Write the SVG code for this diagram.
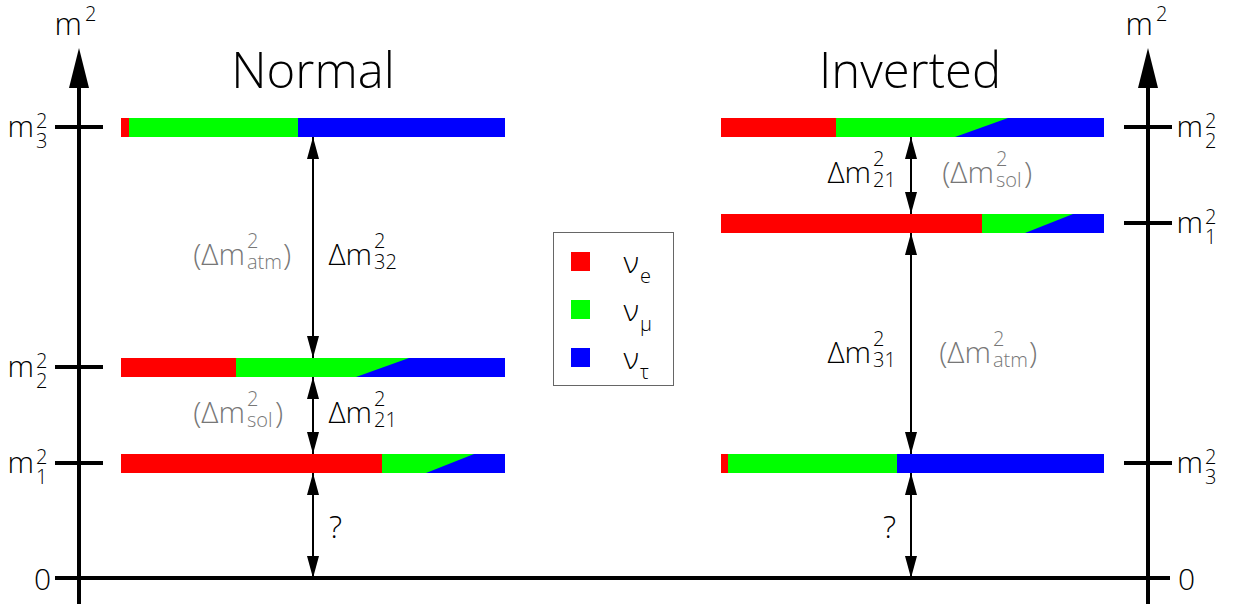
<svg xmlns="http://www.w3.org/2000/svg" width="1236" height="608" viewBox="0 0 1236 608">
  <style>
    text { font-family: "Open Sans", "Liberation Sans", sans-serif; font-weight: 300; fill: #000; }
    .title { font-size: 49px; }
    .lab { font-size: 30px; }
    .main { font-size: 30px; text-anchor: end; }
    .idx { font-size: 20px; }
    .grey { fill: #777; }
    .axis { stroke: #000; stroke-width: 4; fill: none; }
    .gap { stroke: #000; stroke-width: 2; fill: none; marker-start: url(#tip); marker-end: url(#tip); }
    .e { fill: #ff0000; }
    .mu { fill: #00ff00; }
    .tau { fill: #0000ff; }
  </style>
  <defs>
    <marker id="tip" viewBox="0 0 22 12" refX="22" refY="6" markerWidth="22" markerHeight="12" markerUnits="userSpaceOnUse" orient="auto-start-reverse">
      <path d="M0,0 L22,6 L0,12 z" fill="#000"/>
    </marker>
  </defs>

  <!-- axes -->
  <g id="axes">
    <line class="axis" x1="79" y1="604" x2="79" y2="80"/>
    <polygon points="79,48 69,88 89,88" fill="#000"/>
    <line class="axis" x1="1148" y1="604" x2="1148" y2="80"/>
    <polygon points="1148,48 1138,88 1158,88" fill="#000"/>
    <line class="axis" x1="55" y1="578" x2="1170" y2="578"/>
    <!-- left ticks -->
    <line class="axis" x1="55" y1="127" x2="103" y2="127"/>
    <line class="axis" x1="55" y1="367" x2="103" y2="367"/>
    <line class="axis" x1="55" y1="463" x2="103" y2="463"/>
    <!-- right ticks -->
    <line class="axis" x1="1124" y1="127" x2="1172" y2="127"/>
    <line class="axis" x1="1124" y1="223" x2="1172" y2="223"/>
    <line class="axis" x1="1124" y1="463" x2="1172" y2="463"/>
    <!-- axis labels -->
    <text class="main" x="82" y="35" style="font-size:31px">m</text>
    <text class="idx" x="85" y="21">2</text>
    <text class="main" x="1153" y="35" style="font-size:31px">m</text>
    <text class="idx" x="1156" y="21">2</text>
    <text class="lab" x="34" y="590">0</text>
    <text class="lab" x="1178" y="590">0</text>
  </g>

  <!-- level labels, left -->
  <g id="level-labels-left">
    <text class="main" x="34" y="137">m</text><text class="idx" x="36" y="128">2</text><text class="idx" x="36" y="148">3</text>
    <text class="main" x="34" y="377">m</text><text class="idx" x="36" y="368">2</text><text class="idx" x="36" y="388">2</text>
    <text class="main" x="34" y="473">m</text><text class="idx" x="36" y="464">2</text><text class="idx" x="36" y="484">1</text>
  </g>
  <!-- level labels, right -->
  <g id="level-labels-right">
    <text class="main" x="1203" y="137">m</text><text class="idx" x="1205" y="128">2</text><text class="idx" x="1205" y="148">2</text>
    <text class="main" x="1203" y="233">m</text><text class="idx" x="1205" y="224">2</text><text class="idx" x="1205" y="244">1</text>
    <text class="main" x="1203" y="473">m</text><text class="idx" x="1205" y="464">2</text><text class="idx" x="1205" y="484">3</text>
  </g>

  <!-- titles -->
  <text class="title" x="313" y="88" text-anchor="middle">Normal</text>
  <text class="title" x="910" y="88" text-anchor="middle">Inverted</text>

  <!-- normal ordering levels -->
  <g id="normal-m3">
    <rect class="e" x="121" y="118" width="8" height="19"/>
    <rect class="mu" x="129" y="118" width="169" height="19"/>
    <rect class="tau" x="298" y="118" width="207" height="19"/>
  </g>
  <g id="normal-m2">
    <rect class="e" x="121" y="358" width="115" height="19"/>
    <rect class="mu" x="236" y="358" width="173" height="19"/>
    <polygon class="tau" points="356,377 409,358 409,377"/>
    <rect class="tau" x="409" y="358" width="96" height="19"/>
  </g>
  <g id="normal-m1">
    <rect class="e" x="121" y="454" width="261" height="19"/>
    <rect class="mu" x="382" y="454" width="92" height="19"/>
    <polygon class="tau" points="426,473 474,454 474,473"/>
    <rect class="tau" x="474" y="454" width="31" height="19"/>
  </g>

  <!-- inverted ordering levels -->
  <g id="inverted-m2">
    <rect class="e" x="721" y="118" width="115" height="19"/>
    <rect class="mu" x="836" y="118" width="172" height="19"/>
    <polygon class="tau" points="955,137 1008,118 1008,137"/>
    <rect class="tau" x="1008" y="118" width="96" height="19"/>
  </g>
  <g id="inverted-m1">
    <rect class="e" x="721" y="214" width="261" height="19"/>
    <rect class="mu" x="982" y="214" width="91" height="19"/>
    <polygon class="tau" points="1025,233 1073,214 1073,233"/>
    <rect class="tau" x="1073" y="214" width="31" height="19"/>
  </g>
  <g id="inverted-m3">
    <rect class="e" x="721" y="454" width="7" height="19"/>
    <rect class="mu" x="728" y="454" width="169" height="19"/>
    <rect class="tau" x="897" y="454" width="207" height="19"/>
  </g>

  <!-- mass splittings -->
  <g id="connectors">
    <line class="gap" x1="313" y1="137" x2="313" y2="358"/>
    <line class="gap" x1="313" y1="377" x2="313" y2="454"/>
    <line class="gap" x1="313" y1="473" x2="313" y2="578"/>
    <line class="gap" x1="911" y1="137" x2="911" y2="214"/>
    <line class="gap" x1="911" y1="233" x2="911" y2="454"/>
    <line class="gap" x1="911" y1="473" x2="911" y2="578"/>
  </g>

  <!-- splitting labels, normal -->
  <g id="label-atm-normal">
    <text class="main grey" x="245" y="265">(Δm</text><text class="idx grey" x="247" y="248">2</text><text class="idx grey" x="247" y="269">atm</text><text class="lab grey" x="283" y="265">)</text>
    <text class="main" x="372" y="265">Δm</text><text class="idx" x="374" y="248">2</text><text class="idx" x="374" y="269">32</text>
  </g>
  <g id="label-sol-normal">
    <text class="main grey" x="245" y="423">(Δm</text><text class="idx grey" x="247" y="406">2</text><text class="idx grey" x="247" y="427">sol</text><text class="lab grey" x="275" y="423">)</text>
    <text class="main" x="372" y="423">Δm</text><text class="idx" x="374" y="406">2</text><text class="idx" x="374" y="427">21</text>
  </g>
  <text class="lab" x="329" y="538" style="font-size:31px">?</text>

  <!-- splitting labels, inverted -->
  <g id="label-sol-inverted">
    <text class="main" x="871" y="183">Δm</text><text class="idx" x="873" y="166">2</text><text class="idx" x="873" y="187">21</text>
    <text class="main grey" x="994" y="183">(Δm</text><text class="idx grey" x="996" y="166">2</text><text class="idx grey" x="996" y="187">sol</text><text class="lab grey" x="1024" y="183">)</text>
  </g>
  <g id="label-atm-inverted">
    <text class="main" x="871" y="363">Δm</text><text class="idx" x="873" y="346">2</text><text class="idx" x="873" y="367">31</text>
    <text class="main grey" x="991" y="363">(Δm</text><text class="idx grey" x="993" y="346">2</text><text class="idx grey" x="993" y="367">atm</text><text class="lab grey" x="1029" y="363">)</text>
  </g>
  <text class="lab" x="883" y="538" style="font-size:31px">?</text>

  <!-- flavour legend -->
  <g id="legend">
    <rect x="553.5" y="232.5" width="120" height="153" fill="#fff" stroke="#666" stroke-width="1"/>
    <rect class="e" x="571" y="252" width="19" height="19"/>
    <rect class="mu" x="571" y="300" width="19" height="19"/>
    <rect class="tau" x="571" y="348" width="19" height="19"/>
    <text class="main" x="639" y="273">ν</text><text class="idx" x="640" y="283">e</text>
    <text class="main" x="639" y="321">ν</text><text class="idx" x="640" y="331">μ</text>
    <text class="main" x="639" y="369">ν</text><text class="idx" x="640" y="379">τ</text>
  </g>
</svg>
